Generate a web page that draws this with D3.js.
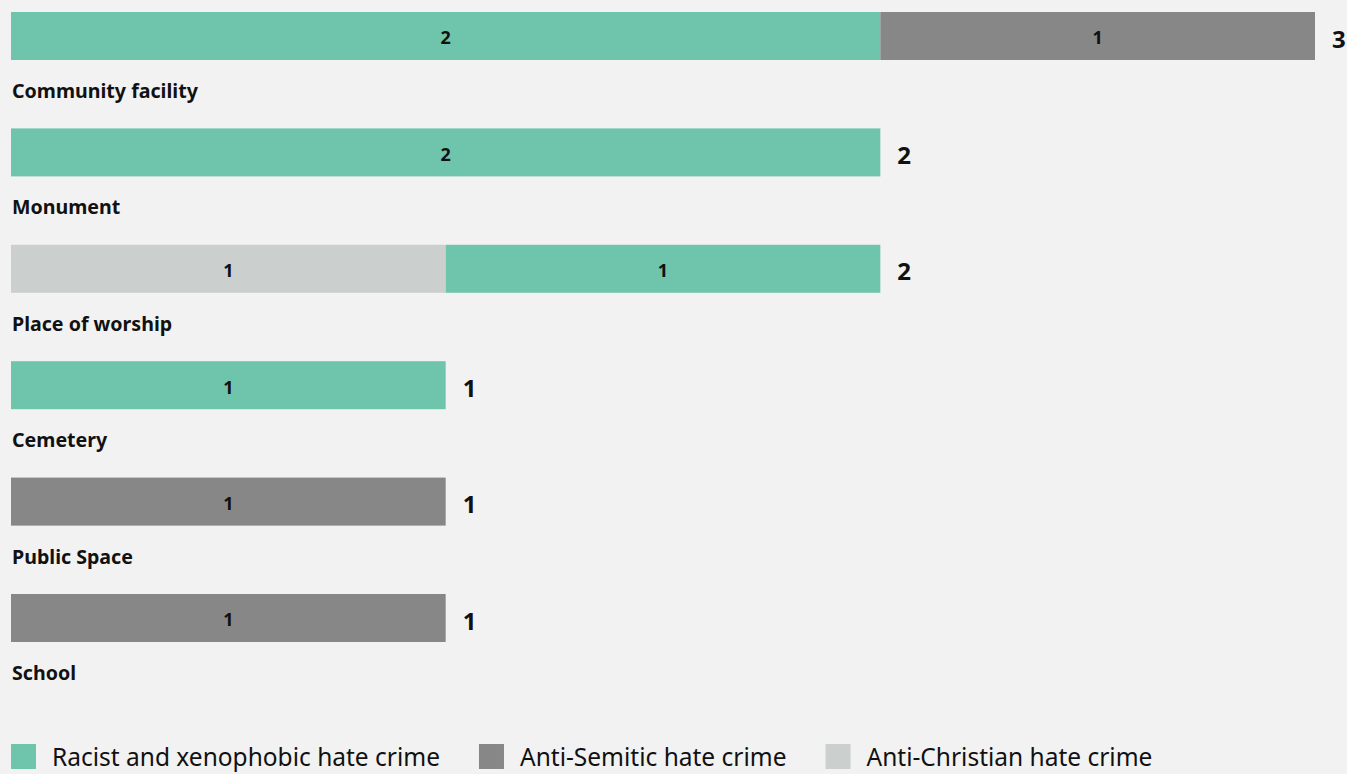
<!DOCTYPE html>
<html>
<head>
<meta charset="utf-8">
<script src="https://cdn.jsdelivr.net/npm/d3@7"></script>
<style>
  html, body { margin: 0; padding: 0; background: #f2f2f2; }
  svg { display: block; font-family: "Noto Sans", sans-serif; }
</style>
</head>
<body>
<svg id="chart" width="1347" height="774"></svg>
<script>
// data
var categories = ["Community facility", "Monument", "Place of worship", "Cemetery", "Public Space", "School"];
var seriesNames = ["Racist and xenophobic hate crime", "Anti-Semitic hate crime", "Anti-Christian hate crime"];
var seriesColors = ["#6fc4ac", "#878787", "#cbcfce"];
var racist = [2, 2, 1, 1, 0, 0];
var antiSemitic = [1, 0, 0, 0, 1, 1];
var antiChristian = [0, 0, 1, 0, 0, 0];
// order of segments inside each bar (index into seriesNames)
var segmentOrder = [[0, 1], [0], [2, 0], [0], [1], [1]];

var values = [racist, antiSemitic, antiChristian];

var svg = d3.select("#chart");

var x = d3.scaleLinear().domain([0, 3]).range([11, 1315]);
// step ~116.4, bar height 48
var y = d3.scaleBand().domain(categories).range([12, 642]).paddingInner(0.5876).paddingOuter(0);

var rows = categories.map(function(c, i) {
  var acc = 0;
  var segs = segmentOrder[i].map(function(s) {
    var v = values[s][i];
    var seg = {series: s, x0: acc, x1: acc + v, value: v};
    acc += v;
    return seg;
  });
  return {cat: c, segs: segs, total: acc};
});

var row = svg.selectAll(".row").data(rows).enter().append("g")
  .attr("class", "row")
  .attr("transform", function(d) { return "translate(0," + y(d.cat) + ")"; });

row.selectAll("rect").data(function(d) { return d.segs; }).enter().append("rect")
  .attr("x", function(d) { return x(d.x0); })
  .attr("width", function(d) { return x(d.x1) - x(d.x0); })
  .attr("y", 0)
  .attr("height", y.bandwidth())
  .attr("fill", function(d) { return seriesColors[d.series]; });

row.selectAll(".seglabel").data(function(d) { return d.segs; }).enter().append("text")
  .attr("class", "seglabel")
  .attr("x", function(d) { return (x(d.x0) + x(d.x1)) / 2; })
  .attr("y", y.bandwidth() / 2 + 2)
  .attr("dy", "0.36em")
  .attr("text-anchor", "middle")
  .attr("font-size", 18)
  .attr("font-weight", "bold")
  .attr("fill", "#111")
  .text(function(d) { return d.value; });

row.append("text")
  .attr("x", function(d) { return x(d.total) + 17; })
  .attr("y", y.bandwidth() / 2 + 3)
  .attr("dy", "0.36em")
  .attr("font-size", 24)
  .attr("font-weight", "bold")
  .attr("fill", "#111")
  .text(function(d) { return d.total; });

row.append("text")
  .attr("x", 12)
  .attr("y", y.bandwidth() + 38)
  .attr("font-size", 19.6)
  .attr("font-weight", "bold")
  .attr("fill", "#111")
  .text(function(d) { return d.cat; });

// legend
var legend = svg.append("g").attr("transform", "translate(11,744)");
var lx = 0;
seriesNames.forEach(function(name, i) {
  var g = legend.append("g").attr("transform", "translate(" + lx + ",0)");
  g.append("rect").attr("width", 25).attr("height", 25).attr("fill", seriesColors[i]);
  var t = g.append("text").attr("x", 41).attr("y", 13).attr("dy", "0.36em")
    .attr("font-size", 24.5).attr("fill", "#111").text(name);
  lx += 41 + t.node().getComputedTextLength() + 39;
});
</script>
</body>
</html>
